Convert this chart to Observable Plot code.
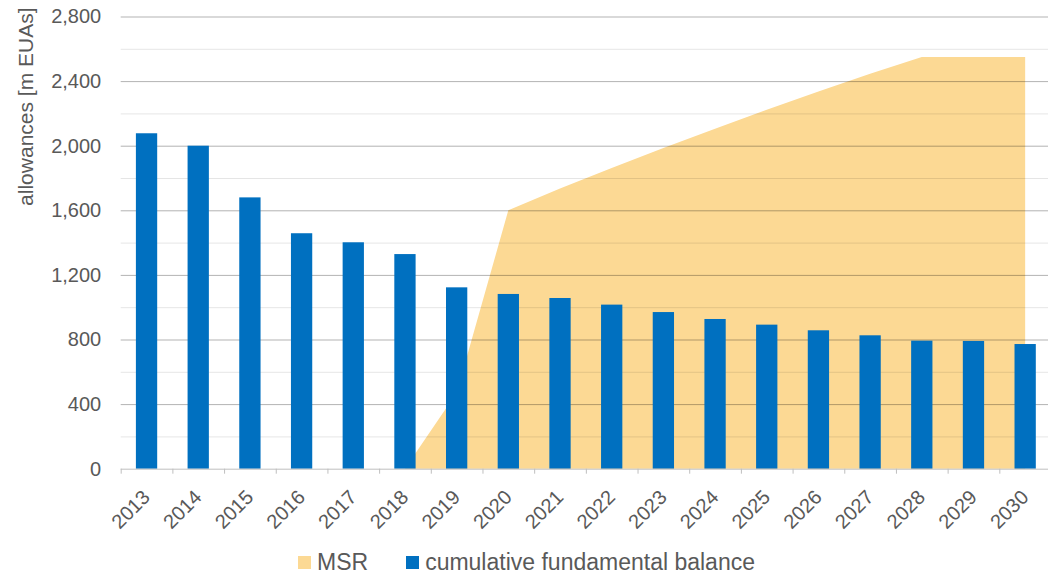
<!DOCTYPE html>
<html>
<head>
<meta charset="utf-8">
<script src="https://cdn.jsdelivr.net/npm/d3@7"></script>
<script src="https://cdn.jsdelivr.net/npm/@observablehq/plot@0.6"></script>
<style>
  body { margin: 0; background: #fff; font-family: "Liberation Sans", Arial, sans-serif; }
  #wrap { position: relative; width: 1048px; height: 574px; overflow: hidden; }
  #legend { position: absolute; top: 549px; left: 298px; display: flex; align-items: center;
            font-size: 23px; line-height: 26px; color: #595959; white-space: nowrap; }
  .item { display: flex; align-items: center; margin-right: 38px; }
  .sw { width: 13px; height: 13px; margin-right: 6px; }
</style>
</head>
<body>
<div id="wrap"><div id="chart"></div><div id="legend"></div></div>
<script>
// Years on the category axis
const years = ["2013","2014","2015","2016","2017","2018","2019","2020","2021",
               "2022","2023","2024","2025","2026","2027","2028","2029","2030"];
// Cumulative fundamental balance, million EUAs
const balance = [2077, 2000, 1680, 1458, 1402, 1329, 1123, 1082, 1057,
                 1016, 970, 927, 892, 857, 826, 793, 791, 772];
// Market Stability Reserve volume, million EUAs
const msrYears = ["2018","2019","2020","2021","2022","2023","2024","2025",
                  "2026","2027","2028","2029","2030"];
const msrValues = [0, 470, 1600, 1735, 1862, 1985, 2105, 2222, 2335, 2445, 2550, 2550, 2550];
// Axis ticks
const yTicks = [0, 400, 800, 1200, 1600, 2000, 2400, 2800];
const yMinorTicks = [200, 600, 1000, 1400, 1800, 2200, 2600];
const yTitle = "allowances [m EUAs]";
// Legend
const seriesNames = ["MSR", "cumulative fundamental balance"];
const seriesColors = ["#FCD994", "#0070C0"];

const balanceRows = years.map((year, i) => ({year, value: balance[i]}));
const msrRows = msrYears.map((year, i) => ({year, value: msrValues[i]}));

const left = 120.7, right = 1051;
const step = (right - left) / years.length;
const textColor = "#595959";
const fontSize = 20;

const chart = Plot.plot({
  width: 1048,
  height: 540,
  marginLeft: left,
  marginRight: 0,
  marginTop: 16.5,
  marginBottom: 71.3,
  style: {fontFamily: "'Liberation Sans', Arial, sans-serif", fontSize: "20px", color: textColor, background: "#fff"},
  x: {domain: years, range: [left, right], paddingInner: 0.588, paddingOuter: 0.294, round: false, axis: null},
  y: {domain: [0, 2800], axis: null},
  marks: [
    Plot.areaY(msrRows, {x: "year", y: "value", fill: seriesColors[0]}),
    Plot.ruleY(yMinorTicks, {stroke: "#000", strokeOpacity: 0.1}),
    Plot.ruleY(yTicks.filter(d => d > 0), {stroke: "#000", strokeOpacity: 0.3}),
    Plot.barY(balanceRows, {x: "year", y: "value", fill: seriesColors[1]}),
    Plot.ruleY([0], {stroke: "#bfbfbf"}),
    // category boundary ticks
    Plot.ruleX(years, {x: d => d, y1: 0, y2: 0, insetBottom: -5, dx: -step / 2, stroke: "#bfbfbf"}),
    // y tick labels
    Plot.text(yTicks, {y: d => d, frameAnchor: "left", text: d => d3.format(",")(d),
      textAnchor: "end", dx: -20, fill: textColor, fontSize}),
    // x tick labels
    Plot.text(years, {x: d => d, frameAnchor: "bottom", text: d => d, rotate: -45,
      textAnchor: "end", lineAnchor: "bottom", dx: 4.2, dy: 29.3, fill: textColor, fontSize}),
    // y axis title
    Plot.text([yTitle], {frameAnchor: "top-left", text: d => d, rotate: -90,
      textAnchor: "end", dx: -103, dy: -9.5, fill: textColor, fontSize: 21})
  ]
});
document.getElementById("chart").append(chart);

const legend = d3.select("#legend");
seriesNames.forEach((name, i) => {
  const item = legend.append("div").attr("class", "item");
  item.append("div").attr("class", "sw").style("background", seriesColors[i]);
  item.append("span").text(name);
});
</script>
</body>
</html>
